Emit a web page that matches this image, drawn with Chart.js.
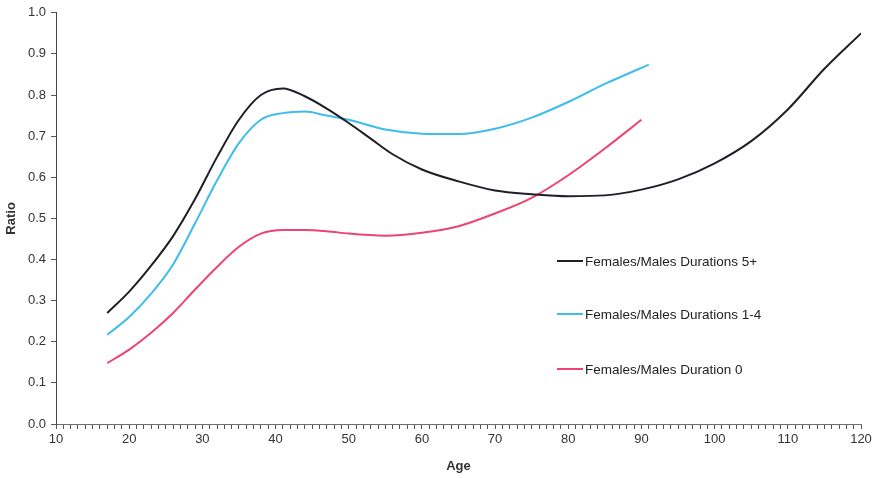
<!DOCTYPE html>
<html>
<head>
<meta charset="utf-8">
<script src="https://cdn.jsdelivr.net/npm/chart.js@4"></script>
<style>
  body { margin: 0; background: #fff; }
  #wrap { width: 878px; height: 478px; }
</style>
</head>
<body>
<div id="wrap"><canvas id="linechart" width="878" height="478"></canvas></div>
<script>
// data
const ages5 = [17, 20, 23, 26, 29, 32, 35, 38, 41, 44, 47, 50, 53, 56, 60, 65, 70, 75, 80, 85, 90, 95, 100, 105, 110, 115, 120];
const ratio5 = [0.270, 0.322, 0.385, 0.457, 0.547, 0.649, 0.740, 0.800, 0.816, 0.797, 0.767, 0.732, 0.694, 0.656, 0.619, 0.590, 0.568, 0.559, 0.554, 0.556, 0.570, 0.595, 0.634, 0.688, 0.765, 0.864, 0.950];

const ages14 = [17, 20, 23, 26, 29, 32, 35, 38, 41, 44, 47, 50, 55, 60, 65, 70, 75, 80, 85, 91];
const ratio14 = [0.217, 0.260, 0.317, 0.388, 0.488, 0.592, 0.683, 0.740, 0.756, 0.760, 0.750, 0.740, 0.716, 0.706, 0.705, 0.718, 0.745, 0.783, 0.827, 0.874];

const ages0 = [17, 20, 23, 26, 29, 32, 35, 38, 41, 44, 47, 50, 55, 60, 65, 70, 75, 80, 85, 90];
const ratio0 = [0.148, 0.181, 0.222, 0.270, 0.327, 0.382, 0.431, 0.463, 0.472, 0.472, 0.469, 0.463, 0.458, 0.465, 0.481, 0.512, 0.550, 0.605, 0.670, 0.740];

const seriesLabels = ['Females/Males Durations 5+', 'Females/Males Durations 1-4', 'Females/Males Duration 0'];
const seriesColors = ['#1f1f28', '#3dbde9', '#ef4470'];

const toPoints = (xs, ys) => xs.map((x, i) => ({ x: x, y: ys[i] }));

// legend drawn inside the plot, like the original
const innerLegend = {
  id: 'innerLegend',
  afterDraw(chart) {
    const ctx = chart.ctx;
    const rowsY = [261, 314, 369];
    ctx.save();
    ctx.font = '13.5px "Liberation Sans", Arial, sans-serif';
    ctx.textBaseline = 'middle';
    chart.data.datasets.forEach((ds, i) => {
      ctx.strokeStyle = ds.borderColor;
      ctx.lineWidth = 2;
      ctx.beginPath();
      ctx.moveTo(557, rowsY[i]);
      ctx.lineTo(583, rowsY[i]);
      ctx.stroke();
      ctx.fillStyle = '#222';
      ctx.fillText(ds.label, 585, rowsY[i] + 1);
    });
    ctx.restore();
  }
};

const ctx = document.getElementById('linechart').getContext('2d');
new Chart(ctx, {
  type: 'line',
  data: {
    datasets: [
      { label: seriesLabels[0], data: toPoints(ages5, ratio5), borderColor: seriesColors[0] },
      { label: seriesLabels[1], data: toPoints(ages14, ratio14), borderColor: seriesColors[1] },
      { label: seriesLabels[2], data: toPoints(ages0, ratio0), borderColor: seriesColors[2] }
    ]
  },
  options: {
    responsive: false,
    animation: false,
    layout: { padding: { left: 0, top: 12, right: 17, bottom: 0 } },
    elements: {
      point: { radius: 0 },
      line: { borderWidth: 2, cubicInterpolationMode: 'monotone', fill: false }
    },
    scales: {
      x: {
        type: 'linear',
        min: 10,
        max: 120,
        afterFit: (scale) => { scale.height = 54; },
        border: { display: true, color: '#6f6f6f', width: 1 },
        grid: { drawOnChartArea: false, drawTicks: true, tickLength: 5, color: '#555' },
        ticks: {
          stepSize: 1,
          autoSkip: false,
          maxRotation: 0,
          padding: 3,
          color: '#333',
          font: { family: '"Liberation Sans", Arial, sans-serif', size: 13 },
          callback: (v) => (v % 10 === 0 ? String(v) : '')
        },
        title: {
          display: true,
          text: 'Age',
          color: '#333',
          padding: { top: 0, bottom: 4 },
          font: { family: '"Liberation Sans", Arial, sans-serif', size: 13, weight: 'bold' }
        }
      },
      y: {
        min: 0,
        max: 1,
        afterFit: (scale) => { scale.width = 56; },
        border: { display: true, color: '#444', width: 1 },
        grid: { drawOnChartArea: false, drawTicks: true, tickLength: 5, color: '#555' },
        ticks: {
          stepSize: 0.1,
          padding: 5,
          color: '#333',
          font: { family: '"Liberation Sans", Arial, sans-serif', size: 13 },
          callback: (v) => v.toFixed(1)
        },
        title: {
          display: true,
          text: 'Ratio',
          color: '#333',
          padding: 4,
          font: { family: '"Liberation Sans", Arial, sans-serif', size: 13, weight: 'bold' }
        }
      }
    },
    plugins: {
      legend: { display: false },
      tooltip: { enabled: false }
    }
  },
  plugins: [innerLegend]
});
</script>
</body>
</html>
